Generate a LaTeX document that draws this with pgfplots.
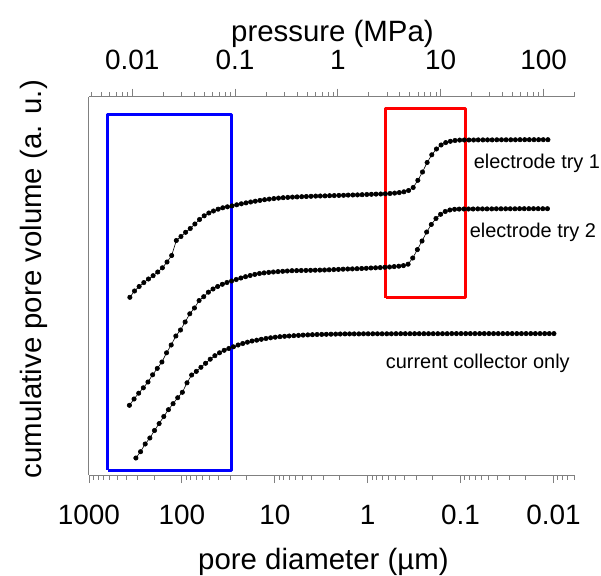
\documentclass[border=0pt]{standalone}
\usepackage{fontspec}
\setmainfont{Liberation Sans}
\usepackage{pgfplots}
\pgfplotsset{compat=1.18}
\usepackage{pgfplotstable}
\definecolor{axgray}{RGB}{128,128,128}

% L = log10 of pore diameter (um), v = cumulative pore volume (a.u., offset curves)
\pgfplotstableread{
L v
2.56 177.7
2.51 184.0
2.46 188.5
2.41 192.4
2.36 196.0
2.31 199.3
2.26 203.0
2.21 207.2
2.16 213.0
2.11 219.5
2.06 234.5
2.01 238.5
1.96 242.7
1.91 246.5
1.86 251.0
1.81 255.5
1.76 259.2
1.71 262.0
1.66 264.0
1.61 265.8
1.56 267.2
1.51 268.2
1.46 269.1
1.41 270.2
1.36 271.2
1.31 272.1
1.26 273.0
1.21 273.8
1.16 274.6
1.11 275.3
1.06 275.9
1.01 276.4
0.96 276.9
0.91 277.3
0.86 277.6
0.81 277.9
0.76 278.1
0.71 278.3
0.66 278.5
0.61 278.7
0.56 278.9
0.51 279.0
0.46 279.1
0.41 279.3
0.36 279.4
0.31 279.6
0.26 279.7
0.21 279.9
0.16 280.0
0.11 280.1
0.06 280.3
0.01 280.5
-0.04 280.7
-0.09 280.9
-0.14 281.0
-0.19 281.2
-0.24 281.5
-0.29 281.9
-0.34 282.4
-0.39 283.2
-0.44 284.5
-0.49 287.5
-0.54 294.7
-0.59 303.0
-0.64 312.5
-0.69 320.2
-0.74 326.0
-0.79 330.0
-0.84 332.4
-0.89 333.7
-0.94 334.5
-0.99 334.9
-1.04 335.0
-1.09 335.0
-1.14 335.0
-1.19 335.1
-1.24 335.1
-1.29 335.1
-1.34 335.1
-1.39 335.2
-1.44 335.2
-1.49 335.2
-1.54 335.2
-1.59 335.2
-1.64 335.3
-1.69 335.3
-1.74 335.3
-1.79 335.3
-1.84 335.3
-1.89 335.3
-1.94 335.3
}\tryone

\pgfplotstableread{
L v
2.565 69.7
2.515 76.0
2.465 81.8
2.415 87.2
2.365 93.0
2.315 100.2
2.265 106.6
2.215 113.0
2.165 122.2
2.115 130.0
2.065 139.0
2.015 145.0
1.965 153.0
1.915 161.2
1.865 167.0
1.815 174.4
1.765 178.3
1.715 182.8
1.665 186.0
1.615 188.5
1.565 190.7
1.515 192.5
1.465 194.0
1.415 195.5
1.365 197.0
1.315 198.3
1.265 199.5
1.215 200.6
1.165 201.5
1.115 202.1
1.065 202.6
1.015 203.0
0.965 203.4
0.915 203.7
0.865 204.0
0.815 204.3
0.765 204.4
0.715 204.5
0.665 204.6
0.615 204.7
0.565 204.8
0.515 204.9
0.465 205.0
0.415 205.2
0.365 205.4
0.315 205.6
0.265 205.8
0.215 206.0
0.165 206.1
0.115 206.3
0.065 206.5
0.015 206.7
-0.035 207.0
-0.085 207.2
-0.135 207.4
-0.185 207.7
-0.235 208.0
-0.285 208.4
-0.335 208.8
-0.385 209.4
-0.435 210.8
-0.485 217.0
-0.535 225.4
-0.585 234.0
-0.635 243.0
-0.685 250.5
-0.735 256.5
-0.785 260.7
-0.835 263.5
-0.885 265.0
-0.935 265.7
-0.985 265.9
-1.035 266.0
-1.085 266.0
-1.135 266.0
-1.185 266.1
-1.235 266.1
-1.285 266.1
-1.335 266.1
-1.385 266.2
-1.435 266.2
-1.485 266.2
-1.535 266.2
-1.585 266.2
-1.635 266.3
-1.685 266.3
-1.735 266.3
-1.785 266.3
-1.835 266.3
-1.885 266.3
-1.935 266.3
}\trytwo

\pgfplotstableread{
L v
2.495 17.0
2.445 23.3
2.395 31.0
2.345 37.0
2.295 44.5
2.245 51.4
2.195 58.5
2.145 65.3
2.095 71.3
2.045 77.3
1.995 82.7
1.945 92.2
1.895 100.0
1.845 103.6
1.795 107.7
1.745 111.7
1.695 115.8
1.645 119.3
1.595 122.2
1.545 124.7
1.495 126.5
1.445 128.2
1.395 130.0
1.345 131.5
1.295 132.8
1.245 134.0
1.195 134.8
1.145 135.7
1.095 136.5
1.045 137.2
0.995 137.8
0.945 138.3
0.895 138.7
0.845 139.0
0.795 139.3
0.745 139.6
0.695 139.9
0.645 140.1
0.595 140.3
0.545 140.5
0.495 140.6
0.445 140.7
0.395 140.8
0.345 140.9
0.295 141.0
0.245 141.1
0.195 141.1
0.145 141.1
0.095 141.1
0.045 141.2
-0.005 141.2
-0.055 141.2
-0.105 141.2
-0.155 141.2
-0.205 141.2
-0.255 141.2
-0.305 141.3
-0.355 141.3
-0.405 141.3
-0.455 141.3
-0.505 141.3
-0.555 141.3
-0.605 141.3
-0.655 141.3
-0.705 141.3
-0.755 141.3
-0.805 141.3
-0.855 141.3
-0.905 141.4
-0.955 141.4
-1.005 141.4
-1.055 141.4
-1.105 141.4
-1.155 141.4
-1.205 141.4
-1.255 141.4
-1.305 141.4
-1.355 141.4
-1.405 141.4
-1.455 141.4
-1.505 141.4
-1.555 141.4
-1.605 141.4
-1.655 141.4
-1.705 141.4
-1.755 141.4
-1.805 141.4
-1.855 141.4
-1.905 141.4
-1.955 141.4
-2.005 141.4
}\collector

\begin{document}
\begin{tikzpicture}
\pgfplotsset{
  mipstyle/.style={
    at={(0,0)}, anchor=south west,
    scale only axis, width=485.5bp, height=378.3bp,
    axis line style={axgray, line width=1bp},
    tick align=outside,
    major tick length=8bp, minor tick length=4.5bp,
    every tick/.style={axgray, line width=0.8bp},
    xticklabel style={font=\fontsize{28}{33}\selectfont, inner sep=0pt},
    xticklabel shift=22bp,
    label style={font=\fontsize{29.5}{35}\selectfont, inner sep=0pt},
  },
  datastyle/.style={black, line width=0.6bp, mark=*, mark size=2.2bp,
    mark options={solid, fill=black}},
}
% bottom axis: pore diameter, reversed
\begin{axis}[mipstyle,
  xmode=log, x dir=reverse, xmin=0.00594, xmax=1000,
  ymin=0, ymax=378.3,
  axis x line*=bottom, axis y line*=left,
  ytick=\empty,
  xtick={0.01,0.1,1,10,100,1000},
  xticklabels={0.01,0.1,1,10,100,1000},
  minor xtick={0.006,0.007,0.008,0.009,0.02,0.03,0.04,0.05,0.06,0.07,0.08,0.09,
    0.2,0.3,0.4,0.5,0.6,0.7,0.8,0.9,2,3,4,5,6,7,8,9,20,30,40,50,60,70,80,90,
    200,300,400,500,600,700,800,900},
  xlabel={pore diameter (µm)},
  xlabel style={at={(axis description cs:0.483,-0.2292)}, anchor=center},
  ylabel={cumulative pore volume (a. u.)},
  ylabel style={at={(axis description cs:-0.1133,0.518)}, anchor=center},
  clip=false,
]
\addplot[datastyle] table[x expr=10^\thisrow{L}, y=v] {\tryone};
\addplot[datastyle] table[x expr=10^\thisrow{L}, y=v] {\trytwo};
\addplot[datastyle] table[x expr=10^\thisrow{L}, y=v] {\collector};

\addplot[blue, line width=3bp, line join=round, mark=none]
  coordinates {(630,5) (29.2,5) (29.2,360) (630,360) (630,5)};
\addplot[red, line width=3bp, line join=round, mark=none]
  coordinates {(0.64,177) (0.0883,177) (0.0883,366.3) (0.64,366.3) (0.64,177)};

\node[anchor=west, inner sep=0pt, font=\fontsize{20}{24}\selectfont]
  at (axis cs:0.0724,311.7) {electrode try 1};
\node[anchor=west, inner sep=0pt, font=\fontsize{20}{24}\selectfont]
  at (axis cs:0.080,242.3) {electrode try 2};
\node[anchor=west, inner sep=0pt, font=\fontsize{20}{24}\selectfont]
  at (axis cs:0.64,111.7) {current collector only};
\end{axis}

% top axis: pressure
\begin{axis}[mipstyle,
  xmode=log, xmin=0.0038, xmax=200,
  ymin=0, ymax=1,
  axis x line*=top, axis y line=none,
  xtick={0.01,0.1,1,10,100},
  xticklabels={0.01,0.1,1,10,100},
  xticklabel shift=19bp,
  minor xtick={0.004,0.005,0.006,0.007,0.008,0.009,0.02,0.03,0.04,0.05,0.06,0.07,0.08,0.09,
    0.2,0.3,0.4,0.5,0.6,0.7,0.8,0.9,2,3,4,5,6,7,8,9,20,30,40,50,60,70,80,90,200},
  xlabel={pressure (MPa)},
  xlabel style={at={(axis description cs:0.5015,1.165)}, anchor=center},
]
\end{axis}

\pgfresetboundingbox
\path[use as bounding box] (-89bp,-101bp) rectangle (512bp,475bp);
\end{tikzpicture}
\end{document}
